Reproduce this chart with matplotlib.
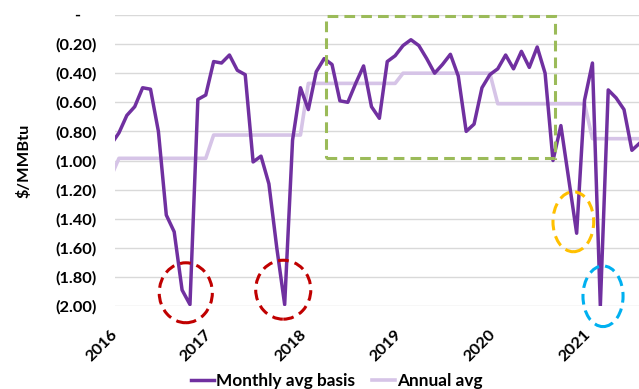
import matplotlib
matplotlib.use("Agg")
import matplotlib.pyplot as plt
from matplotlib.patches import Ellipse, Rectangle
from matplotlib.ticker import FixedLocator, FuncFormatter
import numpy as np

plt.rcParams['font.family'] = ['Lato', 'DejaVu Sans']
plt.rcParams['font.weight'] = 'bold'

# Monthly average basis ($/MMBtu, negative), Dec 2015 .. Jul 2021
monthly_basis = [
    -0.89,                                                                    # Dec 2015
    -0.81, -0.69, -0.63, -0.50, -0.51, -0.80, -1.375, -1.49, -1.89, -1.99, -0.58, -0.55,  # 2016
    -0.32, -0.33, -0.275, -0.38, -0.41, -1.01, -0.97, -1.16, -1.60, -1.99, -0.86, -0.50,  # 2017
    -0.65, -0.39, -0.30, -0.34, -0.59, -0.60, -0.47, -0.35, -0.63, -0.71, -0.32, -0.28,   # 2018
    -0.21, -0.17, -0.21, -0.30, -0.40, -0.34, -0.27, -0.42, -0.80, -0.75, -0.50, -0.41,   # 2019
    -0.37, -0.275, -0.37, -0.25, -0.36, -0.22, -0.40, -1.00, -0.76, -1.13, -1.50, -0.585, # 2020
    -0.33, -2.00, -0.515, -0.57, -0.65, -0.93, -0.88,                                    # 2021
]
# Annual average basis by year, repeated per month
annual_by_year = {2015: -1.11, 2016: -0.985, 2017: -0.825, 2018: -0.47,
                  2019: -0.40, 2020: -0.61, 2021: -0.85}
years = [2016, 2017, 2018, 2019, 2020, 2021]
ytick_vals = [0, -0.2, -0.4, -0.6, -0.8, -1.0, -1.2, -1.4, -1.6, -1.8, -2.0]

n = len(monthly_basis)
month_idx = np.arange(-1, n - 1)              # months since Jan 2016
x = month_idx + 0.5                           # mid-month position
annual = [annual_by_year[2016 + int(np.floor(m / 12))] for m in month_idx]

W, H = 639, 389
fig = plt.figure(figsize=(W / 100, H / 100), dpi=100)
ax = fig.add_axes([115 / W, 1 - 306 / H, (639 - 115) / W, (306 - 15) / H])

purple = '#7030A0'
lavender = '#D6C4E7'
ax.plot(x, annual, color=lavender, lw=2.6, solid_joinstyle='round', zorder=2,
        label='Annual avg')
ax.plot(x, monthly_basis, color=purple, lw=2.5, solid_joinstyle='round', zorder=3,
        label='Monthly avg basis')

ax.set_xlim(0, 66.4)
ax.set_ylim(-2.0, 0.0)

for s in ax.spines.values():
    s.set_visible(False)
ax.yaxis.set_major_locator(FixedLocator(ytick_vals))

def fmt(v, pos):
    if abs(v) < 1e-9:
        return '-    '
    return '({:.2f})'.format(abs(v))
ax.yaxis.set_major_formatter(FuncFormatter(fmt))
ax.grid(axis='y', color='#D9D9D9', lw=1.0)
ax.set_axisbelow(True)
ax.tick_params(axis='y', length=0, pad=13, labelsize=11.8, labelcolor='#000000')

xt = [(y - 2016) * 12 for y in years]
ax.set_xticks(xt)
ax.set_xticklabels([str(y) for y in years], rotation=45, ha='right', va='center',
                   rotation_mode='anchor', fontsize=11.8, fontweight='bold')
ax.tick_params(axis='x', length=0, pad=19)

ax.set_ylabel('$/MMBtu', fontsize=11.8, fontweight='bold', labelpad=6)
ax.yaxis.set_label_coords(-84 / (639 - 115), 0.5)

# highlight shapes
ax.add_patch(Rectangle((26.8, -0.985), 55.7 - 26.8, 0.978, fill=False,
                       edgecolor='#9BBB59', lw=2.2, ls=(0, (3.5, 2.0)), zorder=4, clip_on=False))
for (cx, cy, w, h, c) in [(8.97, -1.909, 6.73, 0.412, '#C00000'),
                          (21.32, -1.888, 6.98, 0.405, '#C00000'),
                          (58.08, -1.421, 5.16, 0.412, '#FFC000'),
                          (61.84, -1.933, 5.08, 0.417, '#00B0F0')]:
    ax.add_patch(Ellipse((cx, cy), w, h, fill=False, edgecolor=c, lw=2.2,
                         ls=(0, (3.5, 2.0)), zorder=4, clip_on=False))

handles, labels = ax.get_legend_handles_labels()
fig.legend(handles[::-1], labels[::-1], loc='center', bbox_to_anchor=(337 / W, 1 - 381 / H),
           ncol=2, frameon=False, handlelength=1.3, handletextpad=0.15,
           columnspacing=1.0, borderaxespad=0, borderpad=0,
           prop={'weight': 'bold', 'size': 12.4})

fig.savefig('out.png', dpi=100)
